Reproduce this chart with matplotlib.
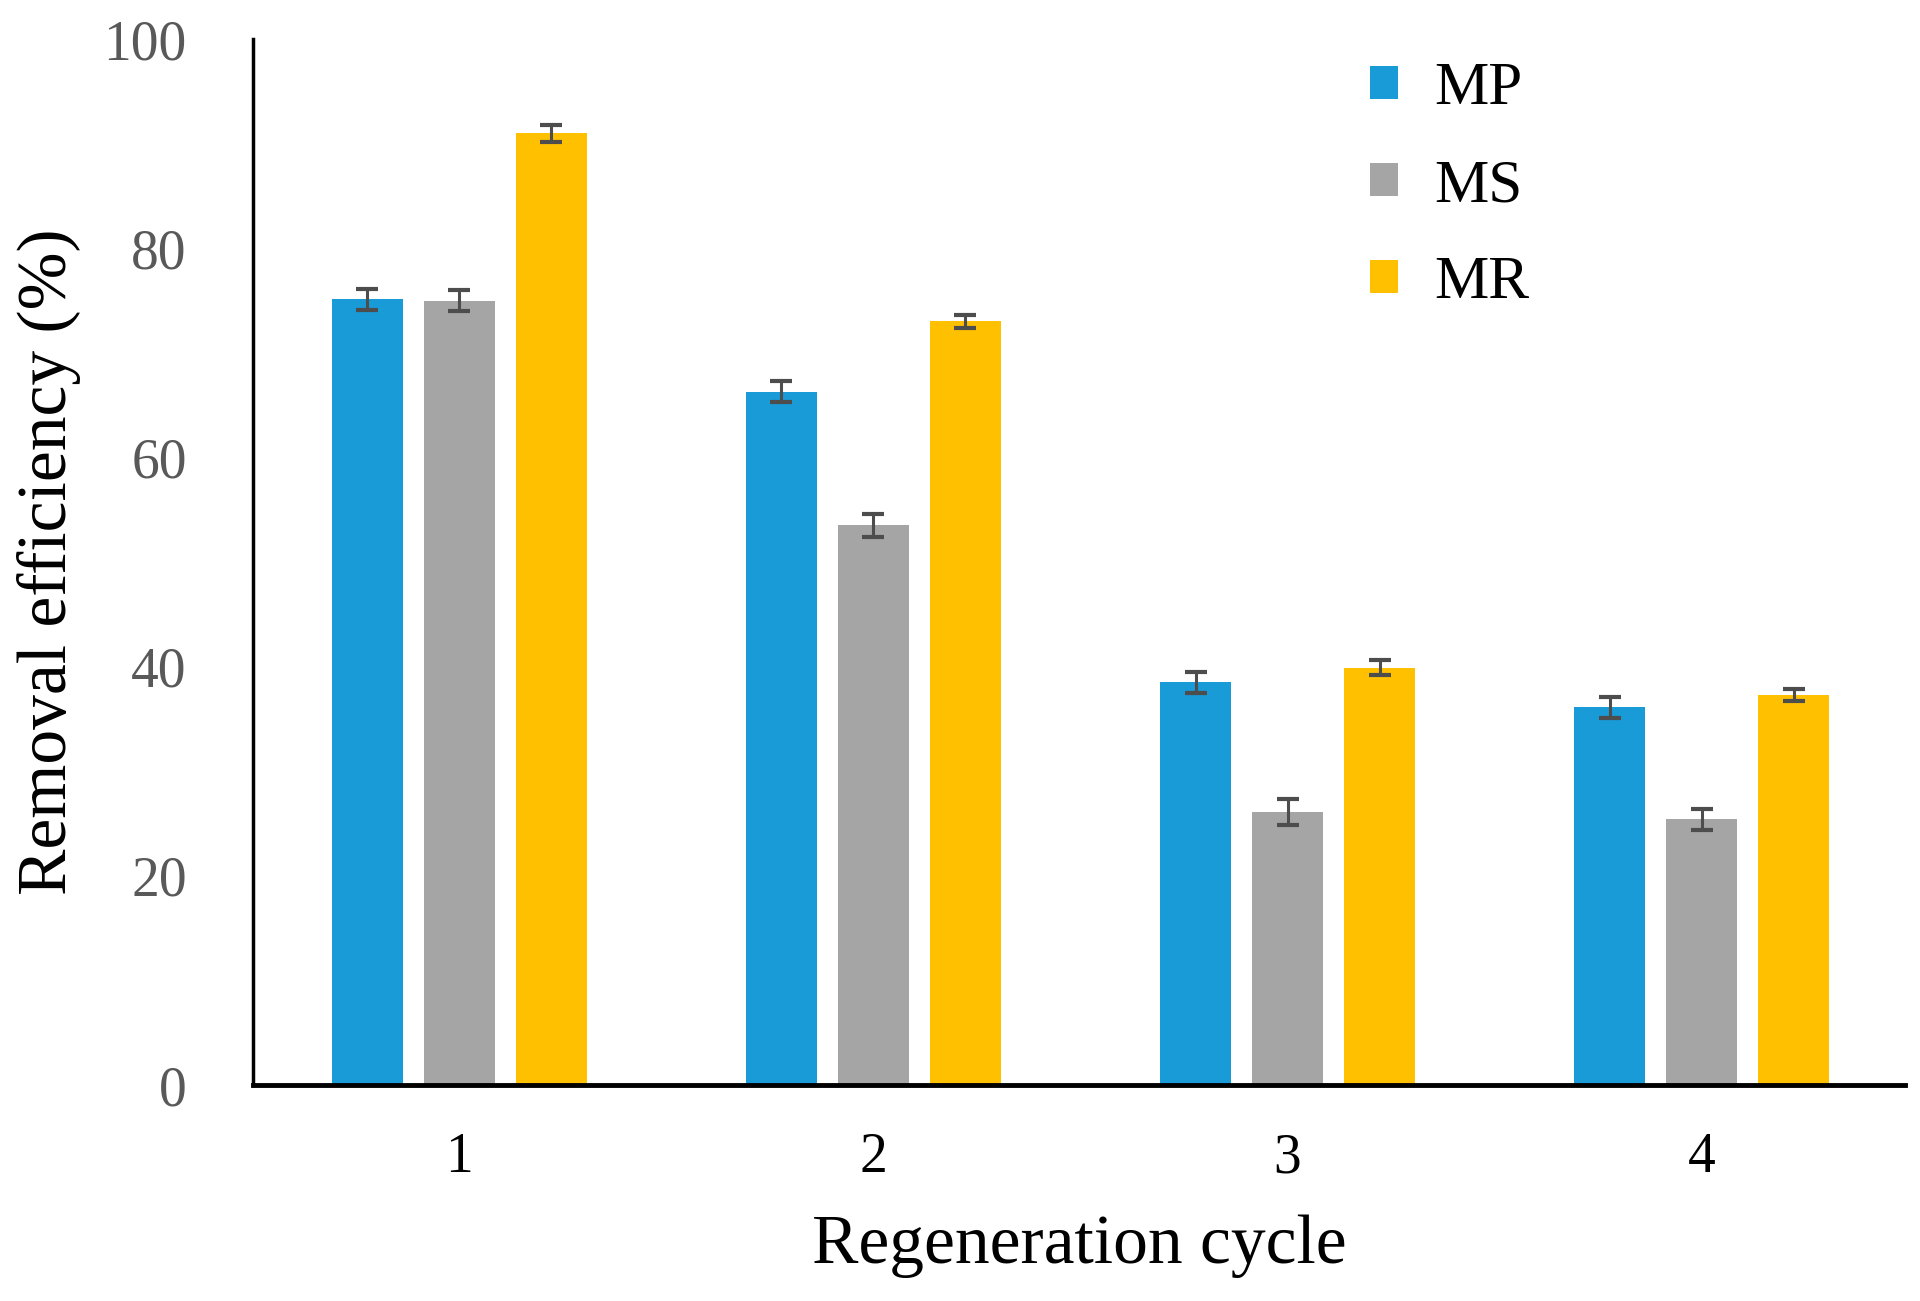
import numpy as np
import matplotlib
matplotlib.use("Agg")
import matplotlib.pyplot as plt
from matplotlib.patches import Patch

plt.rcParams['font.family'] = ['Liberation Serif', 'DejaVu Serif']

cycles = [1, 2, 3, 4]
series = ['MP', 'MS', 'MR']
mp = [75.1, 66.3, 38.5, 36.1]
ms = [75.0, 53.5, 26.1, 25.4]
mr = [91.0, 73.0, 39.9, 37.3]
mp_err = [1.0, 1.0, 1.0, 1.0]
ms_err = [1.0, 1.1, 1.2, 1.0]
mr_err = [0.8, 0.6, 0.7, 0.6]
colors = ['#189bd7', '#a5a5a5', '#ffc000']

fig = plt.figure(figsize=(19.2, 13.01), dpi=100)
ax = fig.add_axes([0.132, 0.166, 0.860, 0.804])

x = np.array(cycles, dtype=float)
width = 0.172
offsets = [-0.222, 0.0, 0.222]
for vals, errs, off, c in zip([mp, ms, mr], [mp_err, ms_err, mr_err], offsets, colors):
    ax.bar(x + off, vals, width, color=c, zorder=2)
    ax.errorbar(x + off, vals, yerr=errs, fmt='none', ecolor='#4d4d4d',
                elinewidth=2.2, capsize=8, capthick=3, zorder=3)

ax.set_xlim(0.503, 4.49)
ax.set_ylim(0, 100)
ax.set_yticks([0, 20, 40, 60, 80, 100])
ax.set_xticks(cycles)

for s in ['top', 'right']:
    ax.spines[s].set_visible(False)
ax.spines['left'].set_linewidth(2.5)
ax.spines['bottom'].set_linewidth(3.5)
ax.tick_params(axis='y', length=0, pad=48, labelsize=40, labelcolor='#595959')
ax.tick_params(axis='x', length=0, pad=34, labelsize=40, labelcolor='black')

ax.set_xlabel('Regeneration cycle', fontsize=50, labelpad=22)
ax.set_ylabel('Removal efficiency (%)', fontsize=50, labelpad=16)

handles = [Patch(facecolor=c, label=s) for c, s in zip(colors, series)]
ax.legend(handles=handles, loc='upper left', bbox_to_anchor=(0.685, 0.995),
          bbox_transform=fig.transFigure, frameon=False, fontsize=44,
          handlelength=0.45, handleheight=0.45, handletextpad=0.6,
          labelspacing=0.68)

fig.savefig('out.png', dpi=100)
